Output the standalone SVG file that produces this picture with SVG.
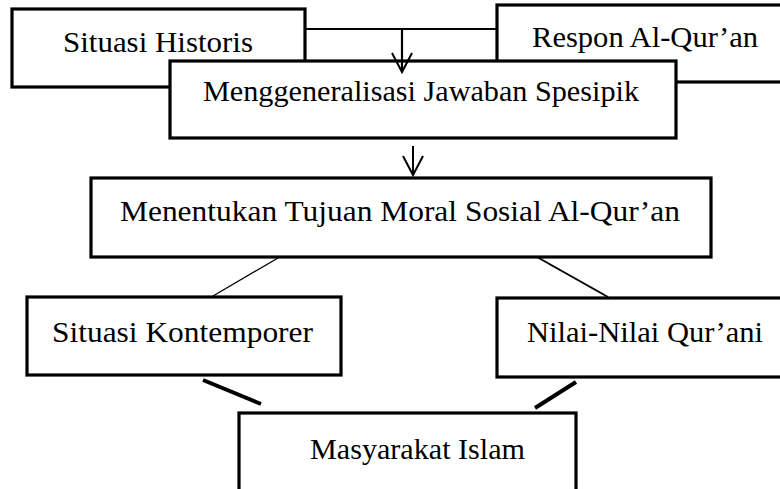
<svg xmlns="http://www.w3.org/2000/svg" width="780" height="489" viewBox="0 0 780 489">
<defs>
<style>
.box{fill:#fff;stroke:#000;stroke-width:3.2}
.t{font-family:"Liberation Serif","Times New Roman",serif;font-size:29px;fill:#000}
.c{fill:none;stroke:#000}
</style>
<marker id="v" markerUnits="userSpaceOnUse" markerWidth="26" markerHeight="26" viewBox="-2 -13 24 26" refX="19" refY="0" orient="auto">
<path d="M0,-10 L19,0 L0,10" fill="none" stroke="#000" stroke-width="2"/>
</marker>
</defs>
<rect width="780" height="489" fill="#fff"/>
<g id="situasi-historis">
<rect class="box" x="12" y="9" width="293" height="78"/>
<text class="t" x="158" y="52" text-anchor="middle" textLength="190" lengthAdjust="spacingAndGlyphs">Situasi Historis</text>
</g>
<g id="respon-alquran">
<rect class="box" x="497" y="5" width="300" height="77"/>
<text class="t" x="645" y="47" text-anchor="middle" textLength="226" lengthAdjust="spacingAndGlyphs">Respon Al-Qur’an</text>
</g>
<g id="menggeneralisasi">
<rect class="box" x="170" y="61" width="506" height="77"/>
<text class="t" x="421" y="101" text-anchor="middle" textLength="436" lengthAdjust="spacingAndGlyphs">Menggeneralisasi Jawaban Spesipik</text>
</g>
<g id="menentukan">
<rect class="box" x="91" y="178" width="620" height="79"/>
<text class="t" x="400" y="221" text-anchor="middle" textLength="560" lengthAdjust="spacingAndGlyphs">Menentukan Tujuan Moral Sosial Al-Qur’an</text>
</g>
<g id="situasi-kontemporer">
<rect class="box" x="27" y="297" width="314" height="78"/>
<text class="t" x="182.5" y="342" text-anchor="middle" textLength="261" lengthAdjust="spacingAndGlyphs">Situasi Kontemporer</text>
</g>
<g id="nilai-qurani">
<rect class="box" x="497" y="298" width="300" height="79"/>
<text class="t" x="645" y="342" text-anchor="middle" textLength="236" lengthAdjust="spacingAndGlyphs">Nilai-Nilai Qur’ani</text>
</g>
<g id="masyarakat-islam">
<rect class="box" x="239" y="413" width="337" height="90"/>
<text class="t" x="417.5" y="459" text-anchor="middle" textLength="215" lengthAdjust="spacingAndGlyphs">Masyarakat Islam</text>
</g>
<g id="connectors">
<line class="c" x1="305" y1="29" x2="497" y2="29" stroke-width="2.2"/>
<line class="c" x1="402" y1="29" x2="402" y2="72" stroke-width="2.2" marker-end="url(#v)"/>
<line class="c" x1="413" y1="146" x2="413" y2="175" stroke-width="2" marker-end="url(#v)"/>
<line class="c" x1="278" y1="258" x2="213" y2="296" stroke-width="1.3"/>
<line class="c" x1="537" y1="257" x2="608" y2="297" stroke-width="2"/>
<line class="c" x1="203" y1="380" x2="261" y2="404" stroke-width="4"/>
<line class="c" x1="576" y1="382" x2="535" y2="408" stroke-width="4"/>
</g>
</svg>
